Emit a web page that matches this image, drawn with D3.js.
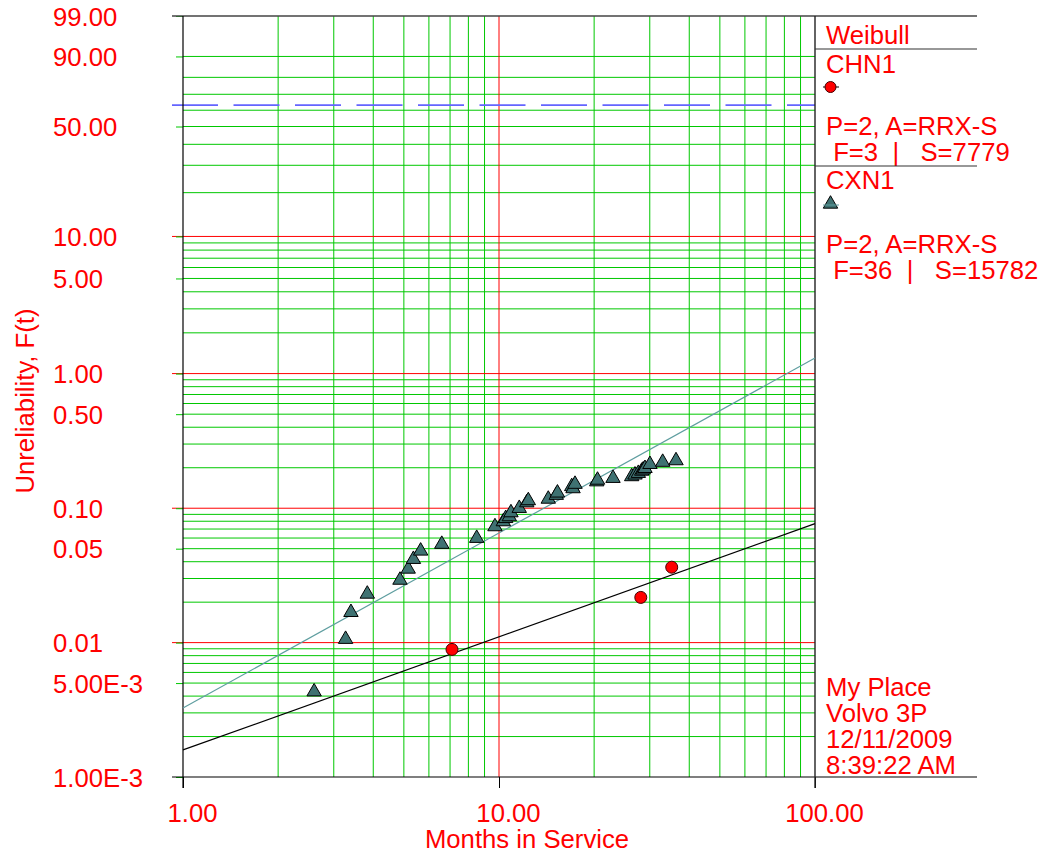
<!DOCTYPE html>
<html>
<head>
<meta charset="utf-8">
<script src="https://cdn.jsdelivr.net/npm/d3@7"></script>
<style>
  html, body { margin: 0; padding: 0; background: #fff; }
  svg { display: block; }
  text { font-family: "Liberation Sans", Arial, sans-serif; fill: #ff0000; white-space: pre; }
</style>
</head>
<body>
<svg id="chart" width="1042" height="854"></svg>
<script>
// ---------- data ----------
const xTickValues = [1, 10, 100];
const xTickLabels = ["1.00", "10.00", "100.00"];
const yTickValues = [99, 90, 50, 10, 5, 1, 0.5, 0.1, 0.05, 0.01, 0.005, 0.001];
const yTickLabels = ["99.00", "90.00", "50.00", "10.00", "5.00", "1.00", "0.50", "0.10", "0.05", "0.01", "5.00E-3", "1.00E-3"];
const yDecades = [0.001, 0.01, 0.1, 1, 10];
const xDecades = [1, 10];
const etaLineF = 63.2;

// CHN1 (percent unreliability vs months)
const chnTime = [7.10, 28.1, 35.2];
const chnUnrel = [0.0089, 0.0217, 0.0364];
// CXN1
const cxnTime = [2.60, 3.27, 3.40, 3.83, 4.86, 5.16, 5.36, 5.65, 6.59, 8.50,
                 9.71, 10.32, 10.50, 10.78, 10.91, 11.59, 12.24, 12.38, 14.32, 15.18,
                 15.31, 16.99, 17.15, 17.40, 20.38, 20.50, 22.95, 26.3, 26.94, 27.6,
                 28.29, 28.6, 28.97, 30.04, 32.96, 36.32];
const cxnUnrel = [0.00431, 0.0106, 0.0168, 0.0230, 0.0292, 0.0353, 0.0417, 0.0481, 0.0540, 0.0598,
                  0.0730, 0.0795, 0.0840, 0.0866, 0.0927, 0.0999, 0.110, 0.114, 0.117, 0.125,
                  0.130, 0.145, 0.140, 0.151, 0.1575, 0.162, 0.167, 0.172, 0.177, 0.182,
                  0.189, 0.193, 0.198, 0.212, 0.220, 0.226];
// fitted lines (endpoints)
const fitTime = [1, 100];
const chnFit = [0.00159, 0.0768];
const cxnFit = [0.00326, 1.304];

const legendTitle = "Weibull";
const series = ["CHN1", "CXN1"];
const seriesInfo1 = ["P=2, A=RRX-S", "P=2, A=RRX-S"];
const seriesInfo2 = [" F=3  |   S=7779", " F=36  |   S=15782"];
const footer = ["My Place", "Volvo 3P", "12/11/2009", "8:39:22 AM"];

// ---------- layout ----------
const L = 183, R = 815, T = 16, B = 777, LEG_R = 977;
const GREEN = "#00c800", RED = "#ff0000";
const FS = 25.7;

const svg = d3.select("#chart");

const x = d3.scaleLog().domain([1, 100]).range([L, R]);
const wf = F => Math.log(-Math.log(1 - F / 100));
function makeWeibScale() {
  const lin = d3.scaleLinear().domain([wf(99), wf(0.001)]).range([T, B]);
  const s = F => lin(wf(F));
  s.copy = () => makeWeibScale();
  s.range = () => lin.range();
  s.domain = () => [99, 0.001];
  return s;
}
const y = makeWeibScale();

// ---------- grid ----------
const gGrid = svg.append("g");
const yMinor = [];
yDecades.forEach(d => { for (let k = 2; k <= 9; k++) yMinor.push(k * d); });
const xMinor = [];
xDecades.forEach(d => { for (let k = 2; k <= 9; k++) xMinor.push(k * d); });

gGrid.selectAll("line.ym").data(yMinor).join("line")
  .attr("x1", L).attr("x2", R)
  .attr("y1", d => y(d)).attr("y2", d => y(d))
  .attr("stroke", GREEN).attr("stroke-width", 1);
gGrid.selectAll("line.xm").data(xMinor).join("line")
  .attr("x1", d => x(d)).attr("x2", d => x(d))
  .attr("y1", T).attr("y2", B)
  .attr("stroke", GREEN).attr("stroke-width", 1);
// red decade lines
gGrid.selectAll("line.yd").data(yDecades.filter(d => d > 0.001)).join("line")
  .attr("x1", L - 11).attr("x2", R)
  .attr("y1", d => y(d)).attr("y2", d => y(d))
  .attr("stroke", RED).attr("stroke-width", 1);
gGrid.append("line")
  .attr("x1", x(10)).attr("x2", x(10)).attr("y1", T).attr("y2", B)
  .attr("stroke", RED).attr("stroke-width", 1);

// characteristic life dashed line
svg.append("line")
  .attr("x1", L - 11).attr("x2", R)
  .attr("y1", y(etaLineF)).attr("y2", y(etaLineF))
  .attr("stroke", "#6464ff").attr("stroke-width", 1.6)
  .attr("stroke-dasharray", "46,15.5");

// ---------- axes ----------
const yAxis = d3.axisLeft(y).tickValues(yTickValues)
  .tickFormat((d, i) => yTickLabels[i]).tickSize(7).tickPadding(0);
const gy = svg.append("g").attr("transform", `translate(${L},0)`).call(yAxis);
gy.select(".domain").remove();
gy.selectAll(".tick line").attr("stroke", GREEN);
gy.selectAll(".tick text")
  .attr("x", 53 - L).attr("text-anchor", "start").attr("dy", null)
  .attr("dominant-baseline", "central")
  .style("font-size", FS + "px").attr("fill", RED)
  .attr("font-family", null);

const xAxis = d3.axisBottom(x).tickValues(xTickValues)
  .tickFormat((d, i) => xTickLabels[i]).tickSize(11).tickPadding(0);
const gx = svg.append("g").attr("transform", `translate(0,${B})`).call(xAxis);
gx.select(".domain").remove();
gx.selectAll(".tick line").attr("stroke", "#000");
gx.selectAll(".tick text")
  .attr("x", 9).attr("y", 45).attr("dy", null)
  .style("font-size", FS + "px").attr("fill", RED)
  .attr("font-family", null);

// borders
svg.append("line").attr("x1", L - 11).attr("x2", LEG_R).attr("y1", T).attr("y2", T)
  .attr("stroke", "#444").attr("stroke-width", 1.5);
svg.append("line").attr("x1", L - 11).attr("x2", LEG_R).attr("y1", B).attr("y2", B)
  .attr("stroke", "#000").attr("stroke-width", 1.2);
svg.append("line").attr("x1", L).attr("x2", L).attr("y1", T).attr("y2", B + 11)
  .attr("stroke", "#000").attr("stroke-width", 1.2);
svg.append("line").attr("x1", R).attr("x2", R).attr("y1", T).attr("y2", B + 11)
  .attr("stroke", "#222").attr("stroke-width", 1.4);

// axis titles
svg.append("text").attr("x", 527).attr("y", 848).attr("text-anchor", "middle")
  .style("font-size", FS + "px").text("Months in Service");
svg.append("text").attr("transform", "translate(34,401) rotate(-90)")
  .attr("text-anchor", "middle").style("font-size", FS + "px").text("Unreliability, F(t)");

// ---------- fit lines ----------
const line = d3.line().x(d => x(d[0])).y(d => y(d[1]));
svg.append("path").datum(fitTime.map((t, i) => [t, cxnFit[i]]))
  .attr("d", line).attr("fill", "none").attr("stroke", "#5f9ea0").attr("stroke-width", 1.2);
svg.append("path").datum(fitTime.map((t, i) => [t, chnFit[i]]))
  .attr("d", line).attr("fill", "none").attr("stroke", "#000").attr("stroke-width", 1.2);

// ---------- points ----------
const TRI = d3.symbol().type(d3.symbolTriangle).size(90);
const TEAL_FILL = "#3f7272";
svg.append("g").selectAll("path").data(cxnTime.map((t, i) => [t, cxnUnrel[i]])).join("path")
  .attr("d", TRI)
  .attr("transform", d => `translate(${x(d[0])},${y(d[1])})`)
  .attr("fill", TEAL_FILL).attr("stroke", "#000").attr("stroke-width", 1);
svg.append("g").selectAll("circle").data(chnTime.map((t, i) => [t, chnUnrel[i]])).join("circle")
  .attr("cx", d => x(d[0])).attr("cy", d => y(d[1])).attr("r", 6)
  .attr("fill", "#ff0000").attr("stroke", "#400").attr("stroke-width", 1);

// ---------- legend ----------
const LX = 826;
function txt(s, yy) {
  svg.append("text").attr("x", LX).attr("y", yy).style("font-size", FS + "px").text(s);
}
txt(legendTitle, 44);
svg.append("line").attr("x1", R).attr("x2", LEG_R).attr("y1", 49).attr("y2", 49)
  .attr("stroke", "#333").attr("stroke-width", 1.2);
txt(series[0], 73);
svg.append("line").attr("x1", 823).attr("x2", 839).attr("y1", 87).attr("y2", 87)
  .attr("stroke", "#000").attr("stroke-width", 1);
svg.append("circle").attr("cx", 830.5).attr("cy", 87).attr("r", 5.5)
  .attr("fill", "#ff0000").attr("stroke", "#400").attr("stroke-width", 1);
txt(seriesInfo1[0], 135);
txt(seriesInfo2[0], 161);
svg.append("line").attr("x1", R).attr("x2", LEG_R).attr("y1", 166).attr("y2", 166)
  .attr("stroke", "#333").attr("stroke-width", 1.2);
txt(series[1], 189);
svg.append("path").attr("d", TRI).attr("transform", "translate(830.5,204)")
  .attr("fill", TEAL_FILL).attr("stroke", "#000").attr("stroke-width", 1);
svg.append("line").attr("x1", 823).attr("x2", 839).attr("y1", 205).attr("y2", 205)
  .attr("stroke", "#5f9ea0").attr("stroke-width", 1);
txt(seriesInfo1[1], 253);
txt(seriesInfo2[1], 279);

footer.forEach((s, i) => txt(s, 696 + i * 26));
</script>
</body>
</html>
